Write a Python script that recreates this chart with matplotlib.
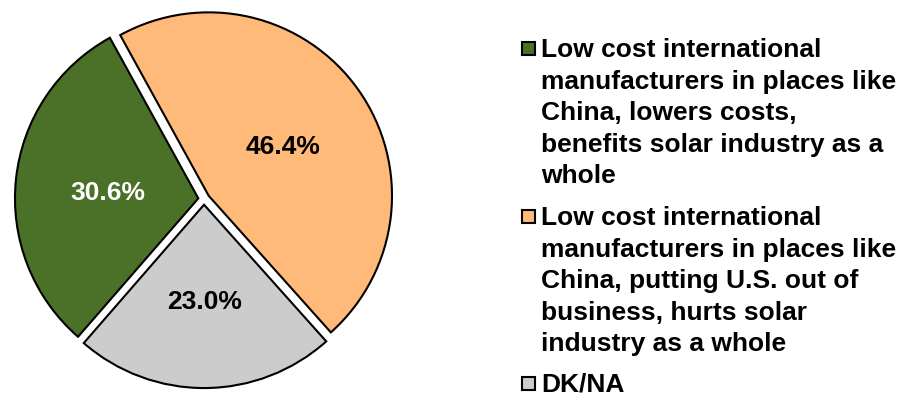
import numpy as np
import matplotlib.pyplot as plt
from matplotlib.patches import Rectangle

plt.rcParams['font.family'] = ['Liberation Sans', 'DejaVu Sans']

# Respuestas
etiquetas = [
    "Low cost international\nmanufacturers in places like\nChina, lowers costs,\nbenefits solar industry as a\nwhole",
    "Low cost international\nmanufacturers in places like\nChina, putting U.S. out of\nbusiness, hurts solar\nindustry as a whole",
    "DK/NA",
]
valores = [30.6, 46.4, 23.0]
colores = ['#4B7028', '#FFB979', '#CCCCCC']
color_texto = ['white', 'black', 'black']

fig = plt.figure(figsize=(9.05, 3.95), dpi=100)

# ejes del pastel (centro ~ (204,199) px, radio ~188 px)
ax = fig.add_axes([(204 - 190) / 905, 1 - (199 + 190) / 395, 380 / 905, 380 / 395])
cunas, textos = ax.pie(valores, colors=colores, startangle=229, counterclock=False,
                       explode=[0.03, 0.03, 0.03], radius=0.965,
                       wedgeprops=dict(edgecolor='black', linewidth=1.5))
ax.set_xlim(-1, 1)
ax.set_ylim(-1, 1)
ax.set_aspect('equal')

# porcentajes dentro de cada rebanada
dist = [0.51, 0.51, 0.52]
for i, c in enumerate(cunas):
    ang = np.deg2rad((c.theta1 + c.theta2) / 2)
    ax.text(dist[i] * np.cos(ang), dist[i] * np.sin(ang) - 0.02, f"{valores[i]:.1f}%",
            ha='center', va='center', fontsize=19, fontweight='bold', color=color_texto[i])

# leyenda a mano: cuadrito alineado con la primera linea
y_tops = [42, 210, 377]
for y, lab, col in zip(y_tops, etiquetas, colores):
    fig.patches.append(Rectangle((522 / 905, 1 - (y + 13) / 395), 13 / 905, 13 / 395,
                                 transform=fig.transFigure, facecolor=col,
                                 edgecolor='black', linewidth=1.5))
    fig.text(541 / 905, 1 - (y - 4) / 395, lab, ha='left', va='top',
             fontsize=19, fontweight='bold', linespacing=1.4)

fig.savefig('out.png', dpi=100)
